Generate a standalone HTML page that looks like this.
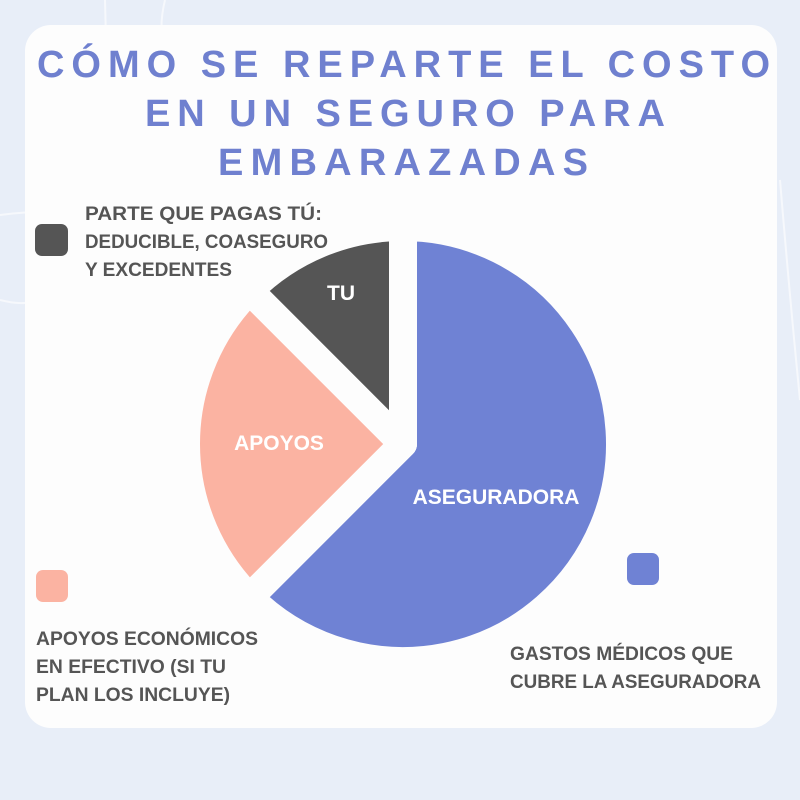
<!DOCTYPE html>
<html><head><meta charset="utf-8"><style>
html,body{margin:0;padding:0;width:800px;height:800px;overflow:hidden;background:#e8eef8;}
svg{display:block}
</style></head><body>
<svg id="chart" width="800" height="800" viewBox="0 0 800 800">
  <g stroke="#f6f8fc" stroke-width="2" fill="none">
    <path d="M105 0 Q110 150 100 300"/><path d="M165 0 Q160 20 162 40"/><path d="M0 215 Q40 210 80 212"/><path d="M0 300 Q20 305 30 302"/><path d="M780 180 Q790 300 800 400"/>
  </g>
  <rect x="25" y="25" width="752" height="703" rx="26" fill="#fdfdfd"/>
  <g font-family="'Liberation Sans', sans-serif" font-weight="bold" fill="#6f80cf" font-size="38">
    <text x="37" y="77" textLength="733" lengthAdjust="spacing">CÓMO SE REPARTE EL COSTO</text>
    <text x="145" y="126" textLength="520" lengthAdjust="spacing">EN UN SEGURO PARA</text>
    <text x="218" y="175" textLength="370" lengthAdjust="spacing">EMBARAZADAS</text>
  </g>
  <g id="pie"></g>
  <g font-family="'Liberation Sans Narrow','Liberation Sans', sans-serif" font-weight="bold" fill="#555555" font-size="19">
    <rect x="35" y="224" width="33" height="32" rx="7" fill="#555555"/>
    <g>
      <text x="85" y="220" textLength="237" lengthAdjust="spacingAndGlyphs">PARTE QUE PAGAS TÚ:</text>
      <text x="85" y="248" textLength="243" lengthAdjust="spacingAndGlyphs">DEDUCIBLE, COASEGURO</text>
      <text x="85" y="276" textLength="147" lengthAdjust="spacingAndGlyphs">Y EXCEDENTES</text>
    </g>
    <rect x="36" y="570" width="32" height="32" rx="7" fill="#fbb3a2"/>
    <g>
      <text x="36" y="645" textLength="222" lengthAdjust="spacingAndGlyphs">APOYOS ECONÓMICOS</text>
      <text x="36" y="673" textLength="190" lengthAdjust="spacingAndGlyphs">EN EFECTIVO (SI TU</text>
      <text x="36" y="701" textLength="194" lengthAdjust="spacingAndGlyphs">PLAN LOS INCLUYE)</text>
    </g>
    <rect x="627" y="553" width="32" height="32" rx="7" fill="#6f82d4"/>
    <g>
      <text x="510" y="660" textLength="223" lengthAdjust="spacingAndGlyphs">GASTOS MÉDICOS QUE</text>
      <text x="510" y="688" textLength="251" lengthAdjust="spacingAndGlyphs">CUBRE LA ASEGURADORA</text>
    </g>
  </g>
</svg>
<script>
const categories = ['ASEGURADORA', 'APOYOS', 'TU'];
const shares = [62.5, 25, 12.5];
const colors = ['#6f82d4', '#fbb3a2', '#555555'];
const labelPos = [[496, 497], [279, 443], [341, 293]];

const NS = 'http://www.w3.org/2000/svg';
const cx = 403, cy = 444, r = 217;
const pie = document.getElementById('pie');
const total = shares.reduce((a, b) => a + b, 0);
function pt(angleFrac, rad) {
  const a = angleFrac * 2 * Math.PI;
  return [cx + rad * Math.sin(a), cy - rad * Math.cos(a)];
}
let acc = 0;
shares.forEach((v, i) => {
  const s = acc / total, e = (acc + v) / total;
  acc += v;
  const [x1, y1] = pt(s, r), [x2, y2] = pt(e, r);
  const large = (e - s) > 0.5 ? 1 : 0;
  const p = document.createElementNS(NS, 'path');
  p.setAttribute('d', `M${cx} ${cy} L${x1} ${y1} A${r} ${r} 0 ${large} 1 ${x2} ${y2} Z`);
  p.setAttribute('fill', colors[i]);
  p.setAttribute('stroke', '#fdfdfd');
  p.setAttribute('stroke-width', '28');
  p.setAttribute('stroke-linejoin', 'round');
  
  
  pie.appendChild(p);
});
categories.forEach((c, i) => {
  const t = document.createElementNS(NS, 'text');
  t.setAttribute('x', labelPos[i][0]);
  t.setAttribute('y', labelPos[i][1] + 7);
  t.setAttribute('text-anchor', 'middle');
  t.setAttribute('fill', '#ffffff');
  t.setAttribute('font-family', "'Liberation Sans Narrow','Liberation Sans', sans-serif");
  t.setAttribute('font-weight', 'bold');
  t.setAttribute('font-size', '21');
  t.textContent = c;
  
  
  pie.appendChild(t);
});
</script>
</body></html>
